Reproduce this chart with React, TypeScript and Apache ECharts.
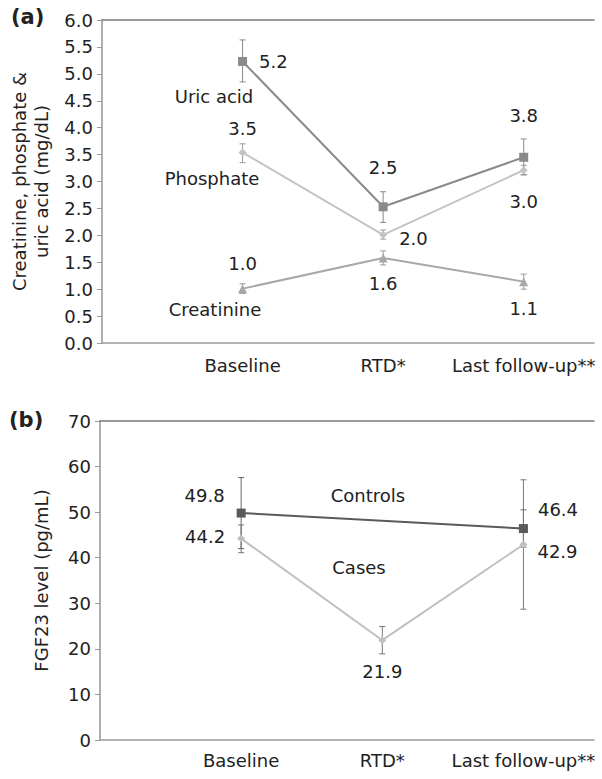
import React, { useEffect, useRef } from "react";
import * as echarts from "echarts";

// ---------- data ----------
const categories = ["Baseline", "RTD*", "Last follow-up**"];
const xPositions = [1, 2, 3];

// Panel (a)
const uricAcid = [5.23, 2.53, 3.45];
const uricAcidLow = [4.85, 2.24, 3.13];
const uricAcidHigh = [5.63, 2.81, 3.79];
const uricAcidLabels = ["5.2", "2.5", "3.8"];

const phosphate = [3.54, 2.01, 3.21];
const phosphateLow = [3.35, 1.93, 3.12];
const phosphateHigh = [3.7, 2.1, 3.3];
const phosphateLabels = ["3.5", "2.0", "3.0"];

const creatinine = [1.01, 1.58, 1.14];
const creatinineLow = [0.92, 1.45, 1.0];
const creatinineHigh = [1.1, 1.71, 1.28];
const creatinineLabels = ["1.0", "1.6", "1.1"];

// Panel (b)
const controls = [49.8, null, 46.4];
const controlsLow = [42.0, null, 42.3];
const controlsHigh = [57.6, null, 50.5];
const controlsLabels = ["49.8", "", "46.4"];

const cases = [44.2, 21.9, 42.9];
const casesLow = [41.1, 18.9, 28.7];
const casesHigh = [47.2, 24.9, 57.1];
const casesLabels = ["44.2", "21.9", "42.9"];

const FONT = "DejaVu Sans";
const FS = 18;
const TXT = "#222";

type Place = { position: string; distance?: number; offset?: number[] };

function points(vals: (number | null)[], labels: string[], places: Place[]) {
  const out: any[] = [];
  vals.forEach((v, i) => {
    if (v === null) return;
    out.push({
      value: [xPositions[i], v],
      label: {
        show: true,
        formatter: labels[i],
        color: TXT,
        fontFamily: FONT,
        fontSize: FS,
        ...places[i],
      },
    });
  });
  return out;
}

function errData(low: (number | null)[], high: (number | null)[]) {
  const out: number[][] = [];
  low.forEach((l, i) => {
    const h = high[i];
    if (l === null || h === null) return;
    out.push([xPositions[i], l, h]);
  });
  return out;
}

function errSeries(data: number[][], xi: number, yi: number, color: string) {
  return {
    type: "custom",
    xAxisIndex: xi,
    yAxisIndex: yi,
    data,
    encode: { x: 0, y: [1, 2] },
    z: 3,
    silent: true,
    renderItem: (params: any, api: any) => {
      const x = api.value(0);
      const lo = api.coord([x, api.value(1)]);
      const hi = api.coord([x, api.value(2)]);
      const w = 3;
      const style = { stroke: color, lineWidth: 1 };
      return {
        type: "group",
        children: [
          { type: "line", shape: { x1: lo[0], y1: lo[1], x2: hi[0], y2: hi[1] }, style },
          { type: "line", shape: { x1: lo[0] - w, y1: lo[1], x2: lo[0] + w, y2: lo[1] }, style },
          { type: "line", shape: { x1: hi[0] - w, y1: hi[1], x2: hi[0] + w, y2: hi[1] }, style },
        ],
      };
    },
  };
}

function lineSeries(data: any[], xi: number, yi: number, color: string, symbol: string, size: number) {
  return {
    type: "line",
    xAxisIndex: xi,
    yAxisIndex: yi,
    data,
    symbol,
    symbolSize: size,
    showAllSymbol: true,
    connectNulls: true,
    z: 4,
    lineStyle: { color, width: 2 },
    itemStyle: { color },
  };
}

function xAxisMain(grid: number, margin: number) {
  return {
    type: "value",
    gridIndex: grid,
    min: 0,
    max: 3.5,
    interval: 1,
    axisLine: { show: true, lineStyle: { color: "#9a9a9a", width: 1.5 } },
    axisTick: { show: false },
    splitLine: { show: false },
    axisLabel: {
      margin,
      color: TXT,
      fontFamily: FONT,
      fontSize: FS,
      showMaxLabel: false,
      formatter: (v: number) => (Number.isInteger(v) && v >= 1 ? categories[v - 1] || "" : ""),
    },
  };
}

function xAxisTop(grid: number) {
  return {
    type: "value",
    gridIndex: grid,
    position: "top",
    min: 0,
    max: 3.5,
    axisLine: { show: true, onZero: false, lineStyle: { color: "#7a7a7a", width: 1.5 } },
    axisTick: { show: false },
    axisLabel: { show: false },
    splitLine: { show: false },
  };
}

function yAxisRight(grid: number, max: number) {
  return {
    type: "value",
    gridIndex: grid,
    position: "right",
    min: 0,
    max,
    axisLine: { show: true, lineStyle: { color: "#b0b0b0", width: 2 } },
    axisTick: { show: false },
    axisLabel: { show: false },
    splitLine: { show: false },
  };
}

export default function App() {
  const ref = useRef<HTMLDivElement>(null);
  useEffect(() => {
    if (!ref.current) return;
    const chart = echarts.init(ref.current, undefined, { renderer: "svg" });

    const uricPlaces: Place[] = [
      { position: "right", distance: 12 },
      { position: "top", distance: 26 },
      { position: "top", distance: 28 },
    ];
    const phosPlaces: Place[] = [
      { position: "top", distance: 11 },
      { position: "right", distance: 12, offset: [0, 4] },
      { position: "bottom", distance: 18 },
    ];
    const creatPlaces: Place[] = [
      { position: "top", distance: 12 },
      { position: "bottom", distance: 12 },
      { position: "bottom", distance: 13 },
    ];
    const ctrlPlaces: Place[] = [
      { position: "left", distance: 12, offset: [0, -18] },
      { position: "left" },
      { position: "right", distance: 10, offset: [0, -19] },
    ];
    const casePlaces: Place[] = [
      { position: "left", distance: 12, offset: [0, -2] },
      { position: "bottom", distance: 18 },
      { position: "right", distance: 10, offset: [0, 7] },
    ];

    const yLabel = { color: TXT, fontFamily: FONT, fontSize: FS, margin: 9 };

    chart.setOption({
      animation: false,
      backgroundColor: "#ffffff",
      textStyle: { fontFamily: FONT },
      grid: [
        { left: 100, top: 20, width: 494, height: 323 },
        { left: 100, top: 421, width: 494, height: 319 },
      ],
      xAxis: [xAxisMain(0, 13), xAxisMain(1, 11), xAxisTop(0), xAxisTop(1)],
      yAxis: [
        {
          type: "value",
          gridIndex: 0,
          min: 0,
          max: 6,
          interval: 0.5,
          name: "Creatinine, phosphate &\nuric acid (mg/dL)",
          nameLocation: "middle",
          nameGap: 50,
          nameTextStyle: { color: TXT, fontFamily: FONT, fontSize: FS, lineHeight: 22 },
          axisLine: { show: true, lineStyle: { color: "#9a9a9a", width: 1.5 } },
          axisTick: { show: true, length: 5, lineStyle: { color: "#9a9a9a" } },
          splitLine: { show: false },
          axisLabel: { ...yLabel, formatter: (v: number) => v.toFixed(1) },
        },
        {
          type: "value",
          gridIndex: 1,
          min: 0,
          max: 70,
          interval: 10,
          name: "FGF23 level (pg/mL)",
          nameLocation: "middle",
          nameGap: 50,
          nameTextStyle: { color: TXT, fontFamily: FONT, fontSize: FS },
          axisLine: { show: true, lineStyle: { color: "#9a9a9a", width: 1.5 } },
          axisTick: { show: true, length: 5, lineStyle: { color: "#9a9a9a" } },
          splitLine: { show: false },
          axisLabel: { ...yLabel },
        },
        yAxisRight(0, 6),
        yAxisRight(1, 70),
      ],
      graphic: [
        { type: "text", left: 11, top: 6, style: { text: "(a)", font: `bold 21px ${FONT}`, fill: TXT } },
        { type: "text", left: 9, top: 409, style: { text: "(b)", font: `bold 21px ${FONT}`, fill: TXT } },
        { type: "text", x: 214, y: 96, style: { text: "Uric acid", font: `${FS}px ${FONT}`, fill: TXT, textAlign: "center", textVerticalAlign: "middle" } },
        { type: "text", x: 212, y: 178, style: { text: "Phosphate", font: `${FS}px ${FONT}`, fill: TXT, textAlign: "center", textVerticalAlign: "middle" } },
        { type: "text", x: 215, y: 309, style: { text: "Creatinine", font: `${FS}px ${FONT}`, fill: TXT, textAlign: "center", textVerticalAlign: "middle" } },
        { type: "text", x: 368, y: 495, style: { text: "Controls", font: `${FS}px ${FONT}`, fill: TXT, textAlign: "center", textVerticalAlign: "middle" } },
        { type: "text", x: 359, y: 567, style: { text: "Cases", font: `${FS}px ${FONT}`, fill: TXT, textAlign: "center", textVerticalAlign: "middle" } },
      ],
      series: [
        errSeries(errData(uricAcidLow, uricAcidHigh), 0, 0, "#8a8a8a"),
        errSeries(errData(phosphateLow, phosphateHigh), 0, 0, "#9a9a9a"),
        errSeries(errData(creatinineLow, creatinineHigh), 0, 0, "#9a9a9a"),
        lineSeries(points(uricAcid, uricAcidLabels, uricPlaces), 0, 0, "#8a8a8a", "rect", 9),
        lineSeries(points(phosphate, phosphateLabels, phosPlaces), 0, 0, "#c3c3c3", "diamond", 8),
        lineSeries(points(creatinine, creatinineLabels, creatPlaces), 0, 0, "#a8a8a8", "triangle", 9),
        errSeries(errData(controlsLow, controlsHigh), 1, 1, "#666666"),
        errSeries(errData(casesLow, casesHigh), 1, 1, "#777777"),
        lineSeries(points(controls, controlsLabels, ctrlPlaces), 1, 1, "#5a5a5a", "rect", 9),
        lineSeries(points(cases, casesLabels, casePlaces), 1, 1, "#c0c0c0", "diamond", 8),
      ],
    });
    return () => chart.dispose();
  }, []);
  return (
    <div
      ref={ref}
      style={{ position: "fixed", left: 0, top: 0, width: 602, height: 779, background: "#fff" }}
    />
  );
}
